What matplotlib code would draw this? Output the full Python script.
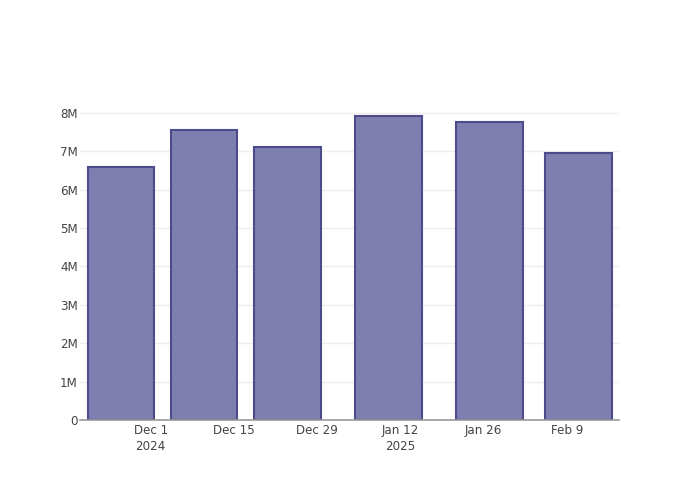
import datetime as dt
import matplotlib
matplotlib.use('Agg')
import matplotlib.pyplot as plt
import matplotlib.dates as mdates

plt.rcParams['font.family'] = ['DejaVu Sans']

# Data
dates = ['2024-11-26', '2024-12-10', '2024-12-24', '2025-01-10', '2025-01-27', '2025-02-11']
values = [6.59e6, 7.56e6, 7.11e6, 7.92e6, 7.77e6, 6.96e6]
tick_dates = ['2024-12-01', '2024-12-15', '2024-12-29', '2025-01-12', '2025-01-26', '2025-02-09']
tick_labels = ['Dec 1\n2024', 'Dec 15', 'Dec 29', 'Jan 12\n2025', 'Jan 26', 'Feb 9']
y_ticks = [0, 1e6, 2e6, 3e6, 4e6, 5e6, 6e6, 7e6, 8e6]
y_labels = ['0', '1M', '2M', '3M', '4M', '5M', '6M', '7M', '8M']

x = [mdates.date2num(dt.date.fromisoformat(d)) for d in dates]
xt = [mdates.date2num(dt.date.fromisoformat(d)) for d in tick_dates]

fig = plt.figure(figsize=(7, 5), dpi=100)
ax = fig.add_axes([80 / 700, 80 / 500, 539 / 700, 320 / 500])

width = 11.2
ax.bar(x, values, width=width, color='#7e7eb0', edgecolor='#4c4c8c', linewidth=1.5, zorder=3)

ax.set_xlim(x[0] - width / 2 - 1.3, x[-1] + width / 2 + 1.2)
ax.set_ylim(0, max(values) * 1.052)

ax.set_xticks(xt)
ax.set_xticklabels(tick_labels, fontsize=8.6, color='#444444', linespacing=1.3)
ax.set_yticks(y_ticks)
ax.set_yticklabels(y_labels, fontsize=8.6, color='#444444')
ax.tick_params(axis='both', length=0)
ax.tick_params(axis='x', pad=3)
ax.tick_params(axis='y', pad=1.5)

ax.grid(axis='y', color='#eeeeee', linewidth=1, zorder=0)
for side in ['top', 'right', 'left']:
    ax.spines[side].set_visible(False)
ax.spines['bottom'].set_color('#999999')
ax.spines['bottom'].set_linewidth(1.2)
ax.spines['bottom'].set_zorder(4)

fig.savefig('out.png', dpi=100)
